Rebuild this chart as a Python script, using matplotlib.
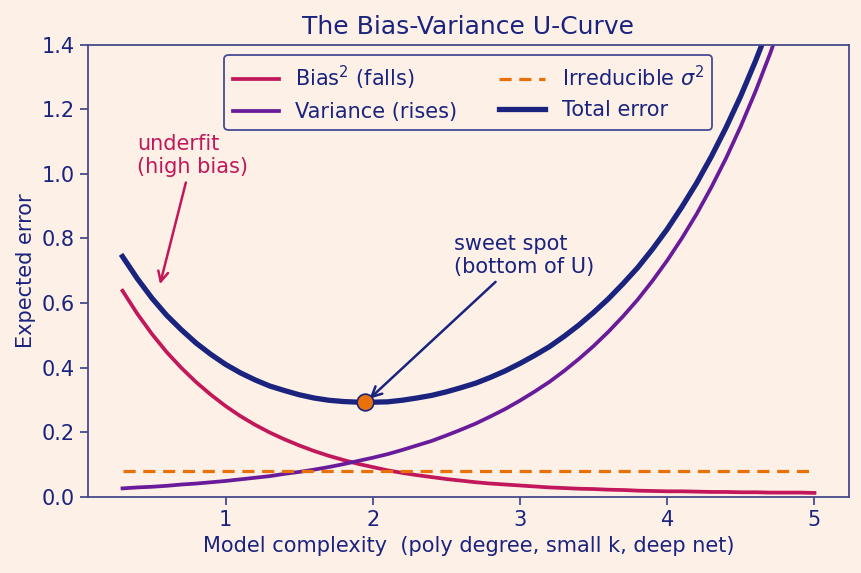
import matplotlib
matplotlib.use("Agg")
import matplotlib.pyplot as plt


# model complexity sampled every 0.1 from 0.3 to 5.0
complexity = [round(0.3 + 0.1 * i, 1) for i in range(48)]

bias_sq = [
    0.638, 0.567, 0.504, 0.448, 0.399, 0.355, 0.316, 0.281, 0.250, 0.223,
    0.199, 0.178, 0.159, 0.142, 0.127, 0.114, 0.102, 0.092, 0.082, 0.074,
    0.067, 0.061, 0.055, 0.050, 0.045, 0.041, 0.038, 0.035, 0.032, 0.029,
    0.027, 0.025, 0.024, 0.022, 0.021, 0.019, 0.018, 0.017, 0.017, 0.016,
    0.015, 0.015, 0.014, 0.014, 0.013, 0.013, 0.013, 0.012,
]

variance = [
    0.026, 0.029, 0.031, 0.034, 0.038, 0.041, 0.045, 0.049, 0.054, 0.059,
    0.064, 0.071, 0.077, 0.084, 0.092, 0.101, 0.111, 0.121, 0.132, 0.145,
    0.159, 0.173, 0.190, 0.208, 0.227, 0.249, 0.272, 0.298, 0.326, 0.356,
    0.390, 0.427, 0.467, 0.511, 0.559, 0.611, 0.669, 0.732, 0.801, 0.876,
    0.959, 1.049, 1.148, 1.256, 1.374, 1.504, 1.645, 1.800,
]

irreducible = 0.08

total = [
    0.744, 0.676, 0.615, 0.562, 0.517, 0.476, 0.441, 0.410, 0.384, 0.362,
    0.343, 0.329, 0.316, 0.306, 0.299, 0.295, 0.293, 0.293, 0.294, 0.299,
    0.306, 0.314, 0.325, 0.338, 0.352, 0.370, 0.390, 0.413, 0.438, 0.465,
    0.497, 0.532, 0.571, 0.613, 0.660, 0.710, 0.767, 0.829, 0.898, 0.972,
    1.054, 1.144, 1.242, 1.350, 1.467, 1.597, 1.738, 1.892,
]

sweet_x = 1.95
sweet_y = 0.292

BG = "#fdf1e7"
NAVY = "#1a237e"
SPINE = "#474a8c"
CRIMSON = "#c2185b"
PURPLE = "#6a1b9a"
ORANGE = "#e8710a"


def main() -> None:
    fig = plt.figure(figsize=(8.62, 5.73), dpi=100, facecolor=BG)
    ax = fig.add_axes([0.102, 0.133, 0.883, 0.789])
    ax.set_facecolor(BG)

    ax.plot(complexity, bias_sq, color=CRIMSON, lw=2.7,
            label="Bias$^2$ (falls)")
    ax.plot(complexity, variance, color=PURPLE, lw=2.7,
            label="Variance (rises)")
    ax.plot([complexity[0], complexity[-1]], [irreducible, irreducible],
            color=ORANGE, lw=2.3, ls=(0, (3.8, 2.4)),
            label="Irreducible $\\sigma^2$")
    ax.plot(complexity, total, color=NAVY, lw=3.8, label="Total error")

    ax.plot([sweet_x], [sweet_y], "o", ms=12, mfc=ORANGE, mec=NAVY,
            mew=1.2, zorder=5)

    ax.annotate("underfit\n(high bias)", xy=(0.55, 0.65),
                xytext=(0.4, 0.99), color=CRIMSON, fontsize=15,
                ha="left", va="bottom",
                arrowprops=dict(arrowstyle="->", color=CRIMSON, lw=1.8,
                                mutation_scale=18))
    ax.annotate("sweet spot\n(bottom of U)", xy=(sweet_x, sweet_y),
                xytext=(2.55, 0.68), color=NAVY, fontsize=15,
                ha="left", va="bottom",
                arrowprops=dict(arrowstyle="->", color=NAVY, lw=1.8,
                                mutation_scale=18, shrinkB=4))

    ax.set_ylim(0, 1.4)
    ax.set_xlim(0.065, 5.235)
    ax.set_xticks([1, 2, 3, 4, 5])

    ax.set_title("The Bias-Variance U-Curve", color=NAVY, fontsize=18,
                 pad=8)
    ax.set_xlabel("Model complexity  (poly degree, small k, deep net)",
                  color=NAVY, fontsize=15)
    ax.set_ylabel("Expected error", color=NAVY, fontsize=15)

    for spine in ax.spines.values():
        spine.set_color(SPINE)
        spine.set_linewidth(1.3)
    ax.tick_params(colors=SPINE, labelcolor=NAVY, labelsize=15, length=6,
                   width=1.3)

    leg = ax.legend(loc="upper center", ncol=2, fontsize=15,
                    frameon=True, facecolor=BG, edgecolor=NAVY,
                    columnspacing=2.0, handlelength=2.2)
    leg.get_frame().set_linewidth(1.3)
    for txt in leg.get_texts():
        txt.set_color(NAVY)

    fig.savefig("out.png", dpi=100, facecolor=BG)


if __name__ == "__main__":
    main()
